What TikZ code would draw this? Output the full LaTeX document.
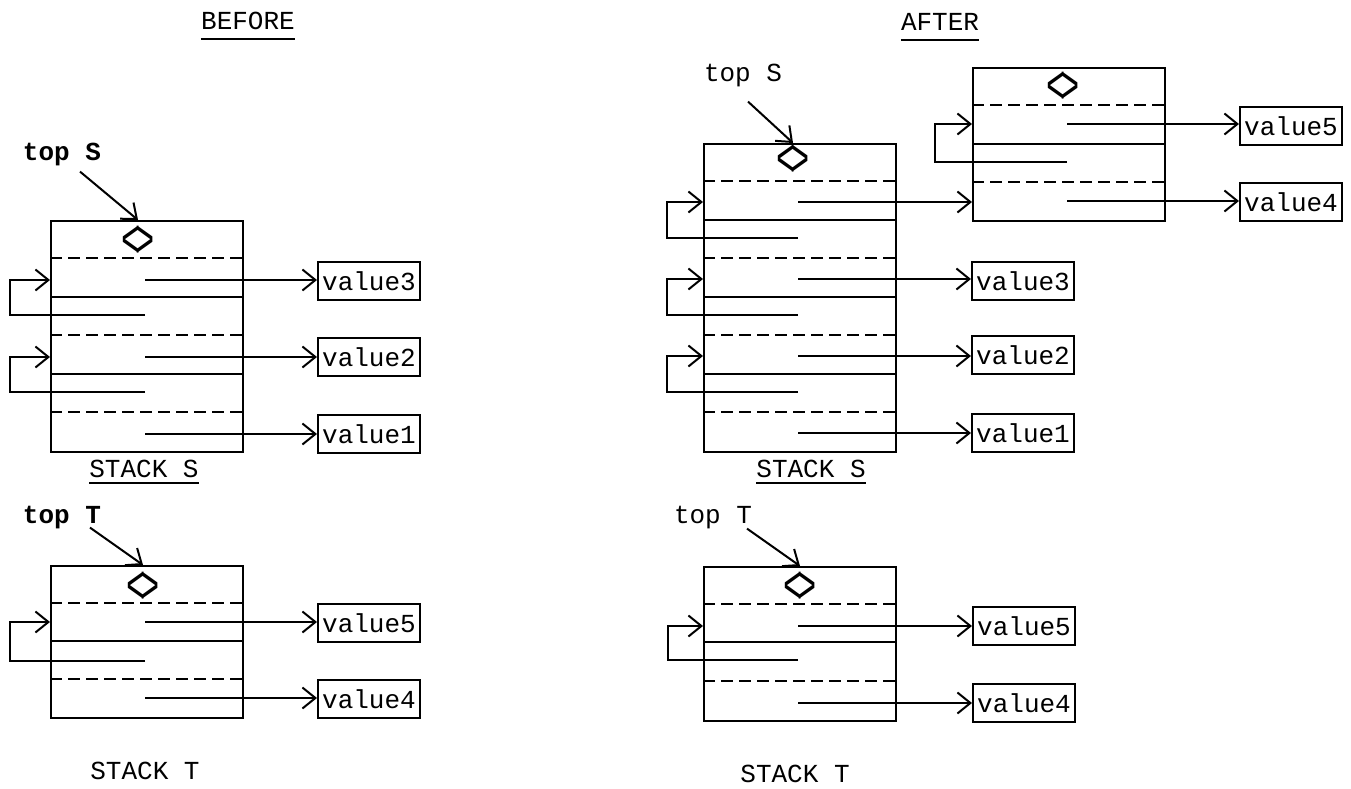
\documentclass[tikz,border=0pt]{standalone}
\usepackage{fontspec}
\setmonofont{Liberation Mono}
\usetikzlibrary{arrows.meta, positioning}

\begin{document}
\begin{tikzpicture}[
    x=1pt, y=-1pt,
    every node/.style={font=\ttfamily\fontsize{26}{30}\selectfont, inner sep=0pt},
    stackbox/.style={draw, line width=2pt, minimum width=192pt, minimum height=#1, anchor=north west},
    valbox/.style={draw, line width=2pt, minimum width=102pt, minimum height=38pt},
    nil/.style={font=\ttfamily\fontsize{32}{32}\selectfont},
    lbl/.style={anchor=base},
    boldlbl/.style={anchor=base, font=\ttfamily\bfseries\fontsize{26}{30}\selectfont},
    rule/.style={line width=2pt},
    cut/.style={line width=1.8pt, dash pattern=on 12pt off 6pt},
    arrow/.style={-{Straight Barb[length=13pt, width=21pt]}, line width=2pt}
]
\useasboundingbox (0,0) rectangle (1351,789);

% ===== BEFORE =====
\node[lbl] (before) at (248,30) {BEFORE};
\draw[rule] ([yshift=-9pt]before.base west) -- ([yshift=-9pt]before.base east);

% stack S
\begin{scope}[shift={(50,220)}]
  \node[stackbox=231pt] (bS) at (0,0) {};
  \node[nil] (bSnil) at (88,22) {\scalebox{1}[1.7]{<\kern-6pt>}};
  \foreach \t [count=\i] in {0,77,154} {
    \draw[cut] (0,\t+38) -- (192,\t+38);
    \coordinate (bSp\i) at (95,\t+60);
  }
  \foreach \t [count=\i] in {77,154} {
    \draw[rule] (0,\t) -- (192,\t);
    \coordinate (bSn\i) at (95,\t+18);
  }
\end{scope}

\node[valbox] (bSv3) at (369,281) {value3};
\node[valbox] (bSv2) at (369,357) {value2};
\node[valbox] (bSv1) at (369,434) {value1};

% value pointers and links
\foreach \i/\v in {1/3,2/2,3/1} \draw[arrow] (bSp\i) -- (bSp\i -| bSv\v.west);
\foreach \i in {1,2} \draw[arrow] (bSn\i) -- ++(-135,0) |- (bSp\i -| bS.west);

\node[boldlbl] (bStop) at (62,160) {top S};
\draw[arrow] ([shift={(18,6)}]bStop.south) -- (bSnil |- bS.north);

\node[lbl] (bSname) at (144,477) {STACK S};
\draw[rule] ([yshift=-6pt]bSname.base west) -- ([yshift=-6pt]bSname.base east);

% stack T
\begin{scope}[shift={(50,565)}]
  \node[stackbox=152pt] (bT) at (0,0) {};
  \node[nil] (bTnil) at (93,23) {\scalebox{1}[1.7]{<\kern-6pt>}};
  \foreach \t [count=\i] in {0,76} {
    \draw[cut] (0,\t+38) -- (192,\t+38);
    \coordinate (bTp\i) at (95,\t+57);
  }
  \draw[rule] (0,76) -- (192,76);
  \coordinate (bTn1) at (95,96);
\end{scope}

\node[valbox] (bTv5) at (369,623) {value5};
\node[valbox] (bTv4) at (369,699) {value4};

\draw[arrow] (bTp1) -- (bTp1 -| bTv5.west);
\draw[arrow] (bTp2) -- (bTp2 -| bTv4.west);
\draw[arrow] (bTn1) -- ++(-135,0) |- (bTp1 -| bT.west);

\node[boldlbl] (bTtop) at (62,523) {top T};
\draw[arrow] ([shift={(28,-1)}]bTtop.south) -- (bTnil |- bT.north);

\node[lbl] (bTname) at (145,779) {STACK T};

% ===== AFTER =====
\node[lbl] (after) at (940,31) {AFTER};
\draw[rule] ([yshift=-9pt]after.base west) -- ([yshift=-9pt]after.base east);

% stack S
\begin{scope}[shift={(703,143)}]
  \node[stackbox=308pt] (aS) at (0,0) {};
  \node[nil] (aSnil) at (90,18) {\scalebox{1}[1.7]{<\kern-6pt>}};
  \foreach \t [count=\i] in {0,77,154,231} {
    \draw[cut] (0,\t+38) -- (192,\t+38);
    \coordinate (aSp\i) at (95,\t+59);
  }
  \foreach \t [count=\i] in {77,154,231} {
    \draw[rule] (0,\t) -- (192,\t);
    \coordinate (aSn\i) at (95,\t+18);
  }
\end{scope}

% pushed record
\begin{scope}[shift={(972,67)}]
  \node[stackbox=153pt] (aR) at (0,0) {};
  \node[nil] (aRnil) at (91,21) {\scalebox{1}[1.7]{<\kern-6pt>}};
  \foreach \t [count=\i] in {0,77} {
    \draw[cut] (0,\t+38) -- (192,\t+38);
    \coordinate (aRp\i) at (95,\t+57);
  }
  \draw[rule] (0,77) -- (192,77);
  \coordinate (aRn1) at (95,95);
\end{scope}

\node[valbox] (aRv5) at (1291,126) {value5};
\node[valbox] (aRv4) at (1291,202) {value4};
\node[valbox] (aSv3) at (1023,281) {value3};
\node[valbox] (aSv2) at (1023,355) {value2};
\node[valbox] (aSv1) at (1023,433) {value1};

\draw[arrow] (aSp1) -- (aSp1 -| aR.west);
\foreach \i/\v in {2/3,3/2,4/1} \draw[arrow] (aSp\i) -- (aSp\i -| aSv\v.west);
\foreach \i in {1,2,3} \draw[arrow] (aSn\i) -- ++(-131,0) |- (aSp\i -| aS.west);

\draw[arrow] (aRp1) -- (aRp1 -| aRv5.west);
\draw[arrow] (aRp2) -- (aRp2 -| aRv4.west);
\draw[arrow] (aRn1) -- ++(-132,0) |- (aRp1 -| aR.west);

\node[lbl] (aStop) at (743,82) {top S};
\draw[arrow] ([shift={(5,14)}]aStop.south) -- (aSnil |- aS.north);

\node[lbl] (aSname) at (811,477) {STACK S};
\draw[rule] ([yshift=-6pt]aSname.base west) -- ([yshift=-6pt]aSname.base east);

% stack T
\begin{scope}[shift={(703,566)}]
  \node[stackbox=154pt] (aT) at (0,0) {};
  \node[nil] (aTnil) at (97,22) {\scalebox{1}[1.7]{<\kern-6pt>}};
  \foreach \t [count=\i] in {0,77} {
    \draw[cut] (0,\t+38) -- (192,\t+38);
    \coordinate (aTp\i) at (95,\t+60);
  }
  \draw[rule] (0,76) -- (192,76);
  \coordinate (aTn1) at (95,94);
\end{scope}

\node[valbox] (aTv5) at (1024,626) {value5};
\node[valbox] (aTv4) at (1024,703) {value4};

\draw[arrow] (aTp1) -- (aTp1 -| aTv5.west);
\draw[arrow] (aTp2) -- (aTp2 -| aTv4.west);
\draw[arrow] (aTn1) -- ++(-130,0) |- (aTp1 -| aT.west);

\node[lbl] (aTtop) at (713,523) {top T};
\draw[arrow] ([shift={(34,0)}]aTtop.south) -- (aTnil |- aT.north);

\node[lbl] (aTname) at (795,782) {STACK T};

\end{tikzpicture}
\end{document}
